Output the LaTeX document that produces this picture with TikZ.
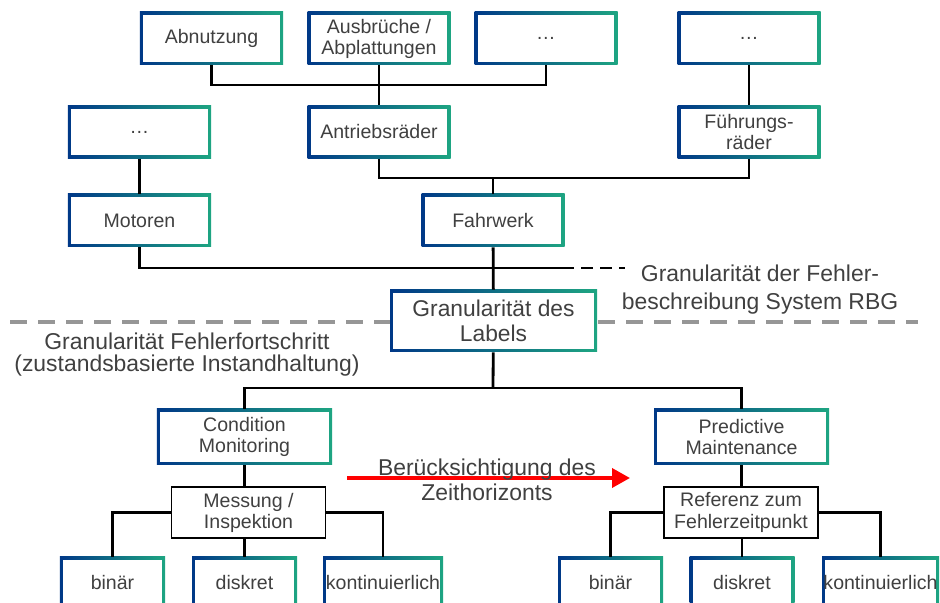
\documentclass[tikz,border=0pt]{standalone}
\usepackage{fontspec}
\setmainfont{Liberation Sans}
\usetikzlibrary{arrows.meta}
\definecolor{gblue}{RGB}{0,56,135}
\definecolor{ggreen}{RGB}{30,165,130}
\definecolor{txtgray}{RGB}{64,64,64}
\definecolor{sepgray}{RGB}{150,150,150}
\newcommand{\boxfont}{\fontsize{13.9}{15}\selectfont}

\begin{document}
\begin{tikzpicture}[x=0.25mm,y=-0.25mm]
      \tikzstyle{gradbox}=[rectangle,inner sep=0pt,align=center,text=txtgray,font=\boxfont,
        path picture={
          \shade[left color=gblue,right color=ggreen] (path picture bounding box.south west) rectangle (path picture bounding box.north east);
          \fill[white] ([shift={(0.8mm,0.8mm)}]path picture bounding box.south west) rectangle ([shift={(-0.8mm,-0.8mm)}]path picture bounding box.north east);}]
      \tikzstyle{part}=[gradbox,minimum width=35.75mm,minimum height=13.25mm]
      \tikzstyle{level}=[gradbox,minimum width=51.75mm,minimum height=15.5mm,font=\fontsize{16.2}{17.5}\selectfont]
      \tikzstyle{method}=[gradbox,minimum width=43.75mm,minimum height=14mm]
      \tikzstyle{value}=[gradbox,minimum width=26.25mm,minimum height=13mm]
      \tikzstyle{criterion}=[rectangle,draw=black,line width=1.4pt,fill=white,inner sep=0pt,align=center,text=txtgray,font=\boxfont,minimum width=38.5mm,minimum height=12.75mm]
      \tikzstyle{link}=[line width=2pt,black]
      \useasboundingbox (0,0) rectangle (940,603);
      \clip (0,0) rectangle (940,603);
      % Fehlerbeschreibung RBG
      \node[part] (abn) at (211.5,38.5) {Abnutzung};
      \node[part] (ausb) at (379,38.5) {Ausbrüche /\\Abplattungen};
      \node[part] (dotsA) at (546,38.5) {…};
      \node[part] (dotsB) at (749,38.5) {…};
      \node[part] (dotsC) at (139.5,132) {…};
      \node[part] (antr) at (379,132) {Antriebsräder};
      \node[part] (fuehr) at (749,132) {Führungs-\\räder};
      \node[part] (mot) at (139.5,220.5) {Motoren};
      \node[part] (fahr) at (493,220.5) {Fahrwerk};
      \coordinate (j1) at (379,85);
      \coordinate (j2) at (493,178);
      \coordinate (j3) at (562,268);
      \coordinate (j3end) at (625,268);
      \draw[link] (abn) |- (j1) -| (dotsA);
      \draw[link] (ausb) -- (antr);
      \draw[link] (dotsB) -- (fuehr);
      \draw[link] (dotsC) -- (mot);
      \draw[link] (antr) |- (j2) -| (fuehr);
      \draw[link] (j2) -- (fahr);
      \draw[link] (mot) |- (j3);
      \draw[link,dash pattern=on 3mm off 1.75mm] (j3) -- (j3end);
      % Trennlinie
      \coordinate (sepL) at (10,322);
      \coordinate (sepR) at (918,322);
      \draw[sepgray,line width=2.8pt,dash pattern=on 4.25mm off 2.75mm] (sepL) -- (sepR);
      \node[level] (gran) at (493.5,321) {Granularität des\\Labels};
      \draw[link] (fahr) -- (gran);
      \node[text=txtgray,align=center,font=\fontsize{16.3}{19.9}\selectfont] (lblsys) at (760,290) {Granularität der Fehler-\\beschreibung System RBG};
      \node[text=txtgray,align=center,font=\fontsize{16.3}{15.6}\selectfont] (lblprog) at (187,355) {Granularität Fehlerfortschritt\\(zustandsbasierte Instandhaltung)};
      % Instandhaltung
      \node[method] (cm) at (244.5,437) {Condition\\Monitoring};
      \node[method] (pm) at (741.5,437) {Predictive\\Maintenance};
      \coordinate (j4) at (493,388);
      \draw[link] (gran) -- (j4);
      \draw[link] (cm) |- (j4) -| (pm);
      \node[criterion] (mess) at (248.5,512.5) {Messung /\\Inspektion};
      \node[criterion] (ref) at (741,512.5) {Referenz zum\\Fehlerzeitpunkt};
      \draw[link] (cm.south) -- (cm.south |- mess.north);
      \draw[link] (pm.south) -- (pm.south |- ref.north);
      \node[value] (bin1) at (112.5,583) {binär};
      \node[value] (dis1) at (244.5,583) {diskret};
      \node[value,minimum width=30mm] (kon1) at (383,583) {kontinuierlich};
      \node[value] (bin2) at (610.5,583) {binär};
      \node[value] (dis2) at (742,583) {diskret};
      \node[value,minimum width=29.25mm] (kon2) at (880.5,583) {kontinuierlich};
      \draw[link] (mess) -| (bin1);
      \draw[link] (mess) -| (kon1);
      \draw[link] (dis1.north) -- (dis1.north |- mess.south);
      \draw[link] (ref) -| (bin2);
      \draw[link] (ref) -| (kon2);
      \draw[link] (dis2.north) -- (dis2.north |- ref.south);
      % Zeithorizont
      \coordinate (tA) at (347,478);
      \coordinate (tB) at (630,478);
      \draw[red,line width=2.6pt,-{Triangle[length=4.5mm,width=4.75mm]}] (tA) -- (tB);
      \node[text=txtgray,align=center,font=\fontsize{16.3}{17.7}\selectfont] (lbltime) at (487,480) {Berücksichtigung des\\Zeithorizonts};
\end{tikzpicture}
\end{document}
